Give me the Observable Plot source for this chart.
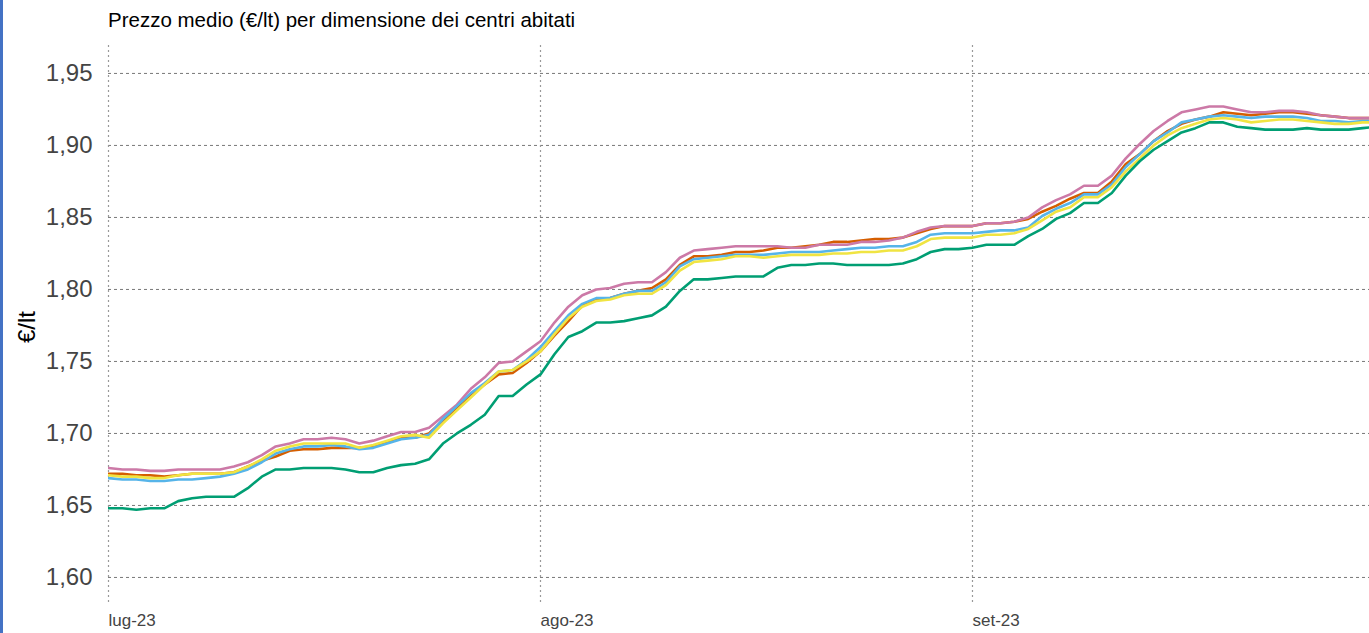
<!DOCTYPE html>
<html><head><meta charset="utf-8">
<script src="https://cdn.jsdelivr.net/npm/d3@7"></script>
<script src="https://cdn.jsdelivr.net/npm/@observablehq/plot@0.6"></script>
<style>
body{margin:0;background:#fff;font-family:"Liberation Sans",Arial,sans-serif;}
#wrap{position:relative;width:1369px;height:633px;overflow:hidden;background:#fff;}
#bar{position:absolute;left:0;top:0;width:3px;height:633px;background:#4472c4;z-index:10;}
#title{position:absolute;left:108px;top:8px;font-size:20.5px;line-height:24px;color:#000;white-space:nowrap;}
#chart{position:absolute;left:0;top:40px;}
</style></head><body>
<div id="wrap"><div id="title">Prezzo medio (€/lt) per dimensione dei centri abitati</div><div id="chart"></div><div id="bar"></div></div>
<script>
// daily values from 1 July 2023 (index 0) to 30 September 2023 (index 91)
const seriesNames = ["Serie 1", "Serie 2", "Serie 3", "Serie 4", "Serie 5"];
const seriesColors = ["#D55E00", "#CC79A7", "#56B4E9", "#F0E442", "#009E73"];

const orange = [1.672,1.672,1.671,1.671,1.670,1.671,1.672,1.672,1.672,1.673,
1.677,1.681,1.684,1.688,1.689,1.689,1.690,1.690,1.690,1.691,
1.694,1.697,1.697,1.700,1.709,1.718,1.727,1.734,1.741,1.742,
1.749,1.757,1.768,1.778,1.789,1.793,1.794,1.797,1.799,1.801,
1.807,1.817,1.823,1.823,1.824,1.826,1.826,1.827,1.829,1.829,
1.830,1.831,1.833,1.833,1.834,1.835,1.835,1.836,1.839,1.842,
1.844,1.844,1.844,1.846,1.846,1.847,1.849,1.854,1.858,1.863,
1.867,1.867,1.875,1.887,1.894,1.903,1.910,1.915,1.918,1.920,
1.923,1.922,1.921,1.922,1.923,1.923,1.922,1.921,1.920,1.919,
1.919,1.919];

const pink = [1.676,1.675,1.675,1.674,1.674,1.675,1.675,1.675,1.675,1.677,
1.680,1.685,1.691,1.693,1.696,1.696,1.697,1.696,1.693,1.695,
1.698,1.701,1.701,1.704,1.712,1.720,1.731,1.739,1.749,1.750,
1.757,1.764,1.777,1.788,1.796,1.800,1.801,1.804,1.805,1.805,
1.812,1.822,1.827,1.828,1.829,1.830,1.830,1.830,1.830,1.829,
1.829,1.831,1.831,1.831,1.833,1.833,1.834,1.836,1.840,1.843,
1.844,1.844,1.844,1.846,1.846,1.847,1.850,1.857,1.862,1.866,
1.872,1.872,1.879,1.891,1.901,1.910,1.917,1.923,1.925,1.927,
1.927,1.925,1.923,1.923,1.924,1.924,1.923,1.921,1.920,1.919,
1.919,1.919];

const blue = [1.669,1.668,1.668,1.667,1.667,1.668,1.668,1.669,1.670,1.672,
1.675,1.680,1.686,1.689,1.691,1.691,1.692,1.691,1.689,1.690,
1.693,1.696,1.697,1.699,1.710,1.719,1.728,1.735,1.743,1.744,
1.751,1.760,1.771,1.782,1.790,1.794,1.794,1.797,1.799,1.799,
1.805,1.816,1.821,1.822,1.823,1.824,1.824,1.824,1.825,1.826,
1.826,1.826,1.827,1.828,1.829,1.829,1.830,1.830,1.833,1.838,
1.839,1.839,1.839,1.840,1.841,1.841,1.843,1.851,1.856,1.860,
1.866,1.866,1.873,1.885,1.894,1.903,1.909,1.916,1.918,1.920,
1.921,1.920,1.919,1.920,1.920,1.920,1.919,1.917,1.917,1.916,
1.917,1.917];

const yellow = [1.671,1.670,1.670,1.669,1.669,1.671,1.672,1.672,1.672,1.673,
1.677,1.682,1.688,1.691,1.693,1.693,1.693,1.693,1.690,1.692,
1.695,1.698,1.699,1.697,1.707,1.716,1.725,1.734,1.743,1.744,
1.750,1.757,1.769,1.780,1.788,1.792,1.793,1.796,1.797,1.797,
1.803,1.813,1.819,1.820,1.821,1.823,1.823,1.822,1.823,1.824,
1.824,1.824,1.825,1.825,1.826,1.826,1.827,1.827,1.830,1.835,
1.836,1.836,1.836,1.838,1.838,1.839,1.842,1.848,1.854,1.857,
1.864,1.864,1.871,1.882,1.891,1.900,1.907,1.912,1.915,1.918,
1.919,1.918,1.916,1.917,1.918,1.918,1.917,1.916,1.915,1.915,
1.916,1.916];

const green = [1.648,1.648,1.647,1.648,1.648,1.653,1.655,1.656,1.656,1.656,
1.662,1.670,1.675,1.675,1.676,1.676,1.676,1.675,1.673,1.673,
1.676,1.678,1.679,1.682,1.693,1.700,1.706,1.713,1.726,1.726,
1.734,1.741,1.755,1.767,1.771,1.777,1.777,1.778,1.780,1.782,
1.788,1.799,1.807,1.807,1.808,1.809,1.809,1.809,1.815,1.817,
1.817,1.818,1.818,1.817,1.817,1.817,1.817,1.818,1.821,1.826,
1.828,1.828,1.829,1.831,1.831,1.831,1.837,1.842,1.849,1.853,
1.860,1.860,1.867,1.879,1.889,1.897,1.903,1.909,1.912,1.916,
1.916,1.913,1.912,1.911,1.911,1.911,1.912,1.911,1.911,1.911,
1.912,1.913];

const yTicks = [1.60, 1.65, 1.70, 1.75, 1.80, 1.85, 1.90, 1.95];
const xTickDates = ["2023-07-01", "2023-08-01", "2023-09-01"];
const xTickLabels = ["lug-23", "ago-23", "set-23"];

const start = new Date(Date.UTC(2023, 6, 1));
const dates = d3.range(pink.length).map(i => d3.utcDay.offset(start, i));
const allValues = [orange, pink, blue, yellow, green];
const data = allValues.flatMap((vals, s) => vals.map((v, i) => ({date: dates[i], value: v, serie: seriesNames[s]})));
const xTicks = xTickDates.map(d => new Date(d + "T00:00:00Z"));
const xEnd = new Date(start.getTime() + 90.49 * 86400000);

const chart = Plot.plot({
  width: 1369, height: 593,
  marginLeft: 108, marginRight: 0, marginTop: 5, marginBottom: 31,
  x: {type: "utc", domain: [start, xEnd]},
  y: {domain: [1.5826, 1.9694]},
  color: {domain: seriesNames, range: seriesColors},
  style: {fontFamily: "Liberation Sans, Arial, sans-serif", background: "#fff", overflow: "visible"},
  marks: [
    Plot.gridY(yTicks, {stroke: "#777", strokeOpacity: 1, strokeDasharray: "3,3"}),
    Plot.gridX(xTicks, {stroke: "#999", strokeOpacity: 1, strokeDasharray: "2,3", strokeWidth: 1.2}),
    Plot.axisY(yTicks, {tickSize: 0, tickPadding: 16, fontSize: 24, fill: "#444", tickFormat: d => d.toFixed(2).replace(".", ","), label: null}),
    Plot.axisX(xTicks, {tickSize: 0, tickPadding: 11, fontSize: 17, fill: "#444", textAnchor: "start", tickFormat: (d, i) => xTickLabels[i], label: null}),
    Plot.lineY(data, {x: "date", y: "value", stroke: "serie", z: "serie", strokeWidth: 2.6, clip: true}),
    Plot.text(["€/lt"], {text: d => d, frameAnchor: "left", dx: -81, dy: 3, rotate: -90, fontSize: 24, fill: "#000", textAnchor: "middle", lineAnchor: "middle"})
  ]
});
document.getElementById("chart").appendChild(chart);
</script>
</body></html>
